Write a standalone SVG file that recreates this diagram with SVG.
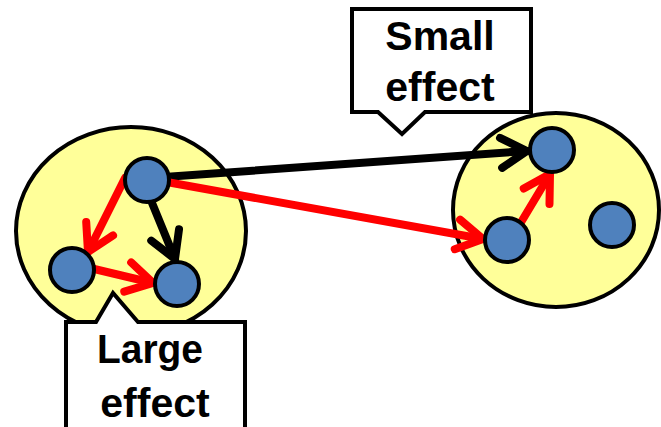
<svg xmlns="http://www.w3.org/2000/svg" width="661" height="427" viewBox="0 0 661 427">
<style>
.cluster{fill:#FFFF99;stroke:#000;stroke-width:4}
.node{fill:#4F81BD;stroke:#000;stroke-width:4}
.callout{fill:#fff;stroke:#000;stroke-width:4;stroke-linejoin:miter}
.lbl{font-family:"Liberation Sans",Arial,sans-serif;font-weight:bold;font-size:41px;fill:#000;text-anchor:middle}
.blk{stroke:#000;stroke-width:8;fill:none;stroke-linecap:round}
.red{stroke:#FF0000;stroke-width:8;fill:none;stroke-linecap:round}
</style>
<defs>
<marker id="ahBlack" markerUnits="userSpaceOnUse" orient="auto" refX="0" refY="0" markerWidth="40" markerHeight="40" overflow="visible">
<path d="M-26,-15 L0,0 L-26,15" fill="none" stroke="#000" stroke-width="8" stroke-linecap="round" stroke-linejoin="round"/>
</marker>
<marker id="ahRed" markerUnits="userSpaceOnUse" orient="auto" refX="0" refY="0" markerWidth="40" markerHeight="40" overflow="visible">
<path d="M-26,-15 L0,0 L-26,15" fill="none" stroke="#FF0000" stroke-width="8" stroke-linecap="round" stroke-linejoin="round"/>
</marker>
</defs>
<g id="cluster-left"><ellipse class="cluster" cx="131" cy="231" rx="115" ry="104"/></g>
<g id="cluster-right"><ellipse class="cluster" cx="556" cy="210" rx="103" ry="97"/></g>
<g id="connectors">
<line class="blk" x1="150" y1="178" x2="527" y2="151" marker-end="url(#ahBlack)"/>
<line class="red" x1="150" y1="179" x2="483" y2="239" marker-end="url(#ahRed)"/>
<line class="red" x1="125" y1="178" x2="88" y2="252" marker-end="url(#ahRed)"/>
<line class="blk" x1="150" y1="198" x2="175" y2="259" marker-end="url(#ahBlack)"/>
<line class="red" x1="90" y1="268" x2="153" y2="283" marker-end="url(#ahRed)"/>
<line class="red" x1="520" y1="224" x2="550" y2="174" marker-end="url(#ahRed)"/>
</g>
<g id="node-a"><circle class="node" cx="147" cy="180" r="22"/></g>
<g id="node-b"><circle class="node" cx="72" cy="270" r="22"/></g>
<g id="node-c"><circle class="node" cx="177" cy="284" r="22"/></g>
<g id="node-d"><circle class="node" cx="552" cy="150" r="22"/></g>
<g id="node-e"><circle class="node" cx="507" cy="240" r="22"/></g>
<g id="node-f"><circle class="node" cx="612" cy="225" r="22"/></g>
<g id="callout-large">
<path class="callout" d="M66,322 L96,322 L113,293 L138,322 L245,322 L245,440 L66,440 Z"/>
<text class="lbl" x="150" y="363" textLength="106" lengthAdjust="spacingAndGlyphs">Large</text>
<text class="lbl" x="155" y="417">effect</text>
</g>
<g id="callout-small">
<path class="callout" d="M352,9 L531,9 L531,112 L425,112 L402,134 L378,112 L352,112 Z"/>
<text class="lbl" x="440" y="50">Small</text>
<text class="lbl" x="440" y="101">effect</text>
</g>
</svg>
